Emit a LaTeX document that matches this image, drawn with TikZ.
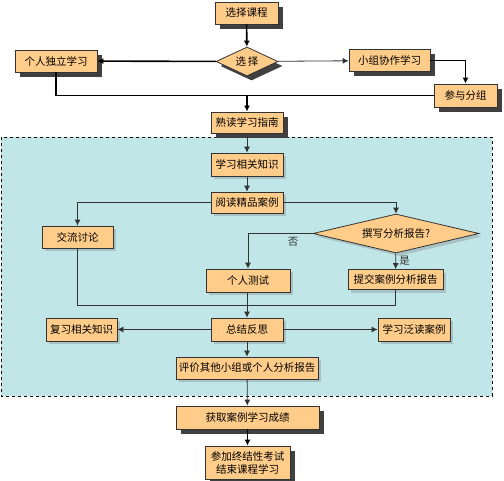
\documentclass[tikz,border=0pt]{standalone}
\usepackage{fontspec}
\setmainfont{Noto Sans CJK SC}
\usepackage{tikz}
\usetikzlibrary{shapes.geometric}
\usetikzlibrary{shadows}
\usetikzlibrary{arrows.meta}
\definecolor{peach}{HTML}{FFCC8A}
\definecolor{pool}{HTML}{C0E6E8}
\tikzset{
  box/.style={draw=black!80, fill=peach, line width=.8pt, inner sep=2pt, minimum height=22pt, font=\fontsize{10.5}{12}\selectfont},
  outbox/.style={box, drop shadow={fill=black!75, opacity=1, shadow xshift=4.5pt, shadow yshift=-4.5pt}},
  inbox/.style={box, drop shadow={fill=gray, opacity=.35, shadow xshift=3pt, shadow yshift=-3pt}},
  pick/.style={box, diamond, inner sep=0pt, minimum height=29pt},
  thick line/.style={line width=1.6pt, black},
  thin line/.style={line width=.8pt, black!80},
}
\begin{document}
\begin{tikzpicture}[x=1pt, y=-1pt, >={Latex[length=6pt,width=6pt]}]%
        \useasboundingbox (0,0) rectangle (504,480);%
        \draw[dashed, line width=.8pt, fill=pool] (1,137) rectangle (492,396);%
        % upper part
        \node[outbox, minimum width=63pt] (course) at (246.5,13) {选择课程};%
        \node[pick, minimum width=62pt, aspect=2.1, drop shadow={fill=black!75, opacity=1, shadow xshift=4.5pt, shadow yshift=-4.5pt}] (choose) at (247,61.5) {选\,择};%
        \node[outbox, minimum width=82pt] (alone) at (56,61) {个人独立学习};%
        \node[outbox, minimum width=81pt] (team) at (389.5,60.5) {小组协作学习};%
        \node[outbox, minimum width=63pt, minimum height=23pt] (group) at (465.5,95.5) {参与分组};%
        \node[outbox, minimum width=72pt, minimum height=21pt] (guide) at (247,122.5) {熟读学习指南};%
        \coordinate (m1) at (group.west -| guide.north);%
        \draw[thick line, ->] (course) -- (choose);%
        \draw[thick line, ->] (choose) -- (alone);%
        \draw[thin line, ->] (choose) -- (team);%
        \draw[thick line, ->] (team.east) -| (group.north);%
        \draw[thick line] (alone.south) |- (m1);%
        \draw[thick line] (group.west) -- (m1);%
        \draw[thick line, ->] (m1) -- (guide);%
        % case study area
        \node[inbox, minimum width=72pt, minimum height=23pt] (know) at (247,164.5) {学习相关知识};%
        \node[inbox, minimum width=72pt, minimum height=21pt] (read) at (247,202.5) {阅读精品案例};%
        \node[inbox, minimum width=71pt] (talk) at (77.5,237) {交流讨论};%
        \node[pick, minimum width=166pt, minimum height=39pt, aspect=4.2, drop shadow={fill=gray, opacity=.35, shadow xshift=3pt, shadow yshift=-3pt}] (write) at (396,233.5) {撰写分析报告?};%
        \node[inbox, minimum width=84pt, minimum height=23pt] (test) at (248,280.5) {个人测试};%
        \node[inbox, minimum width=95pt, minimum height=20pt] (hand) at (395.5,279.5) {提交案例分析报告};%
        \node[inbox, minimum width=71pt, minimum height=23pt] (redo) at (81.5,329.5) {复习相关知识};%
        \node[inbox, minimum width=72pt, minimum height=23pt] (sum) at (247,329.5) {总结反思};%
        \node[inbox, minimum width=72pt, minimum height=23pt] (wide) at (414,329.5) {学习泛读案例};%
        \node[inbox, minimum width=142pt] (rate) at (247,368) {评价其他小组或个人分析报告};%
        \coordinate (m2) at (0,305);%
        \draw[thin line, ->] (guide) -- (know);%
        \draw[thin line, ->] (know) -- (read);%
        \draw[thin line, ->] (read.west) -| (talk.north);%
        \draw[thin line, ->] (read.east) -| (write.north);%
        \draw[thin line, ->] (write.west) -| (test.north) node[pos=.15, below] {\fontsize{10.5}{12}\selectfont 否};%
        \draw[thin line, ->] (write) -- (hand) node[midway, right] {\fontsize{10.5}{12}\selectfont 是};%
        \draw[thin line] (talk.south) |- (m2 -| hand.south) -- (hand.south);%
        \draw[thin line, ->] (test.south -| sum.north) -- (sum);%
        \draw[thin line, ->] (sum) -- (redo);%
        \draw[thin line, ->] (sum) -- (wide);%
        \draw[thin line, ->] (sum) -- (rate);%
        % lower part
        \node[outbox, minimum width=143pt, minimum height=23pt] (score) at (247.5,417.5) {获取案例学习成绩};%
        \node[outbox, minimum width=85pt, minimum height=33pt, align=center, font=\fontsize{10.5}{13}\selectfont] (exam) at (247.5,462.5) {参加终结性考试\\结束课程学习};%
        \draw[thin line, ->] (rate) -- (score);%
        \draw[thick line, ->] (score) -- (exam);%
      \end{tikzpicture}
\end{document}
